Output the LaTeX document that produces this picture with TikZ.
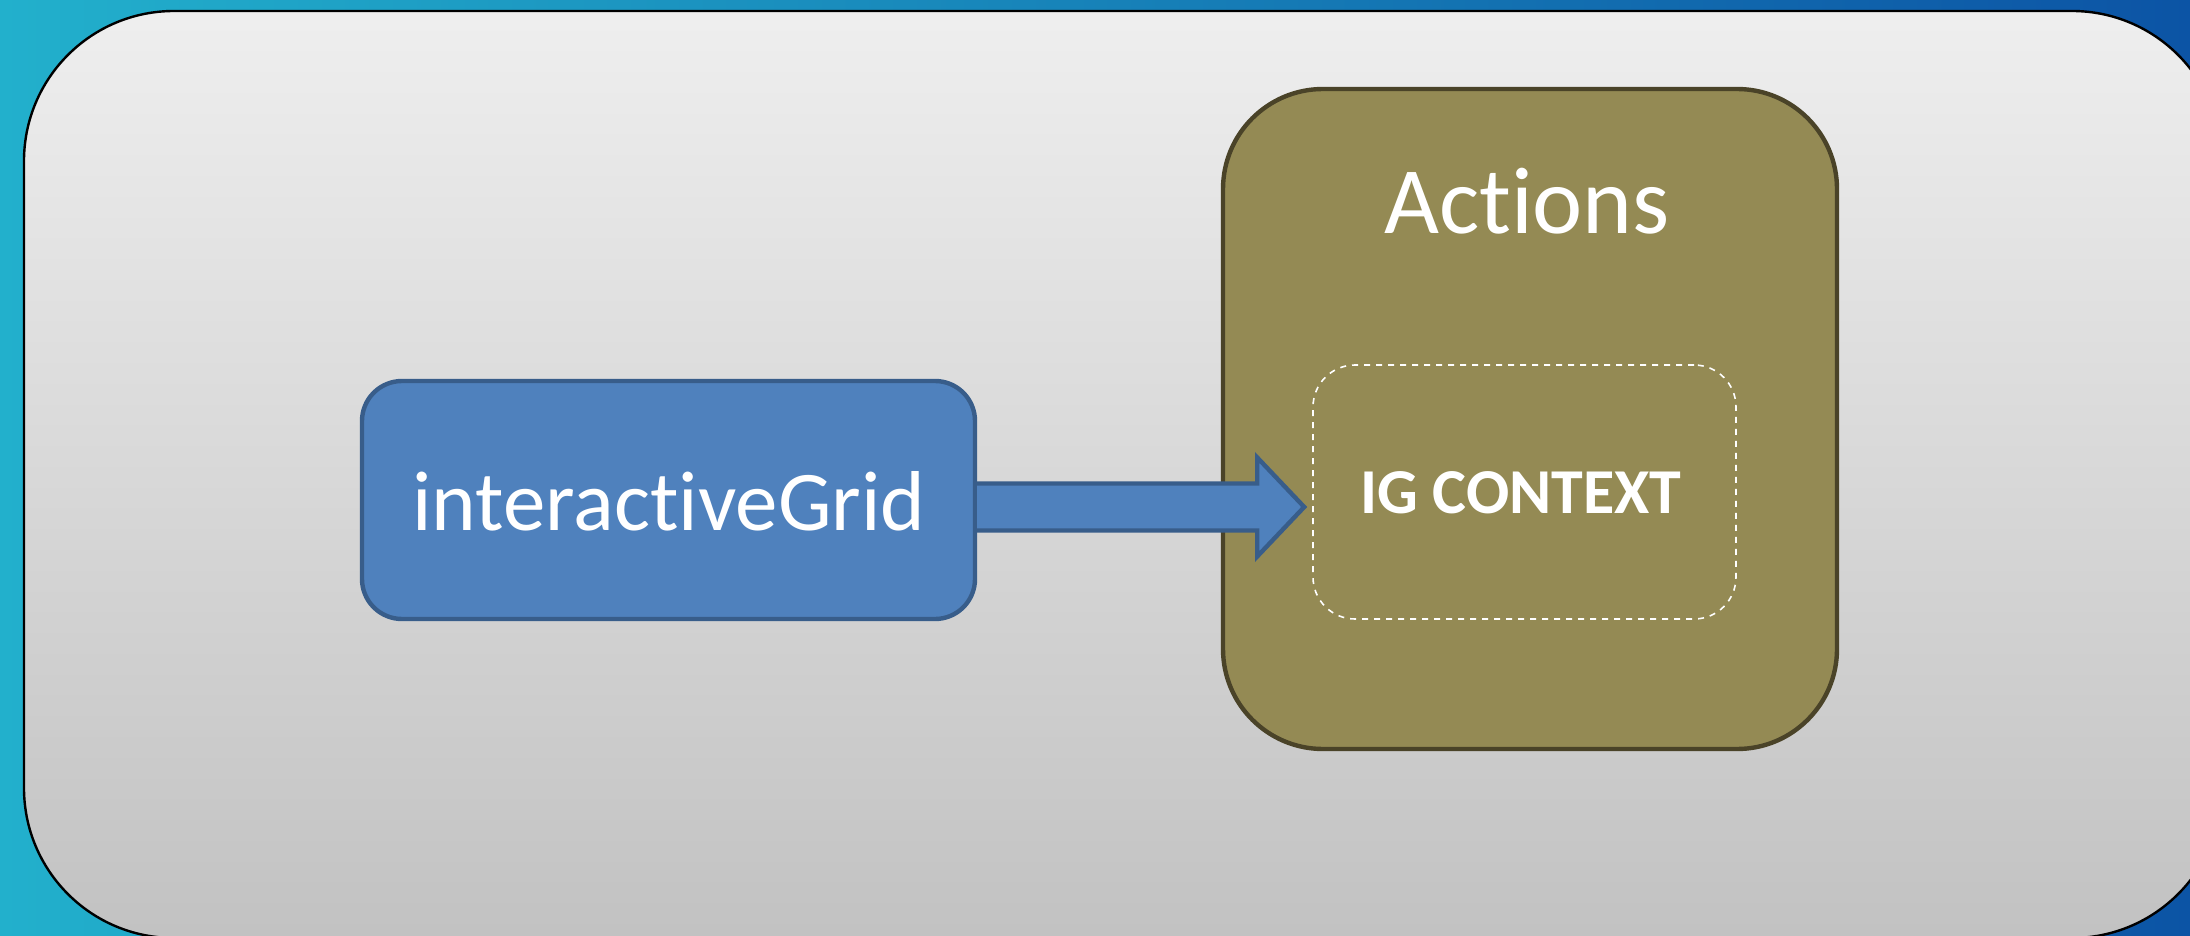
\documentclass[tikz,border=0pt]{standalone}
\usepackage{fontspec}
\setmainfont{Carlito}[Ligatures=NoCommon]
\usepackage{tikz}
\usetikzlibrary{calc}

\definecolor{bgcyan}{RGB}{34,176,204}
\definecolor{bgblue}{RGB}{12,84,165}
\definecolor{igfill}{RGB}{79,129,189}
\definecolor{igline}{RGB}{56,93,138}
\definecolor{actfill}{RGB}{148,138,84}
\definecolor{actline}{RGB}{74,67,40}

\begin{document}
\begin{tikzpicture}[x=0.5pt,y=-0.5pt,
    box/.style={rectangle,draw,line width=2.2pt,inner sep=0pt},
    bigarrow/.style={draw=igline,line width=2.2pt,line join=miter}]
          \useasboundingbox (0,0) rectangle (2190,936);
          \shade[left color=bgcyan,right color=bgblue] (0,0) rectangle (2190,936);
          \draw[black,line width=1.2pt,rounded corners=75pt,top color=gray!13,bottom color=gray!48]
            (24,11) rectangle (2222,938);
          % boxes
          \node[box,fill=igfill,draw=igline,rounded corners=20pt,
            minimum width=306.5pt,minimum height=119pt] (ig) at (668.5,500) {};
          \node[box,fill=actfill,draw=actline,rounded corners=50pt,
            minimum width=307pt,minimum height=330pt] (actions) at (1530,419) {};
          \node[rectangle,draw=white,dashed,line width=0.8pt,rounded corners=21pt,
            minimum width=211.5pt,minimum height=127pt] (ctx) at (1524.5,492) {};
          \node[anchor=base,white,font=\fontsize{42.5pt}{42.5pt}\selectfont] (igtext) at (669,530) {interactiveGrid};
          \node[anchor=base,white,font=\fontsize{47.5pt}{47.5pt}\selectfont] (acttext) at (1527,234) {Actions};
          \node[anchor=base,white,font=\fontsize{32pt}{32pt}\bfseries\selectfont] (ctxtext) at (1521,513) {IG CONTEXT};
          % arrow
          \coordinate (start) at ($(ig.east)+(0,7)$);
          \coordinate (tip) at ($(start)+(327,0)$);
          \fill[igfill] ($(start)+(0,-23.5)$) -- ($(tip)+(-47,-23.5)$) -- ($(tip)+(-47,-49.5)$) -- (tip)
            -- ($(tip)+(-47,49.5)$) -- ($(tip)+(-47,23.5)$) -- ($(start)+(0,23.5)$) -- cycle;
          \draw[bigarrow] ($(start)+(0,-23.5)$) -- ($(tip)+(-47,-23.5)$) -- ($(tip)+(-47,-49.5)$) -- (tip)
            -- ($(tip)+(-47,49.5)$) -- ($(tip)+(-47,23.5)$) -- ($(start)+(0,23.5)$);
        \end{tikzpicture}
\end{document}
